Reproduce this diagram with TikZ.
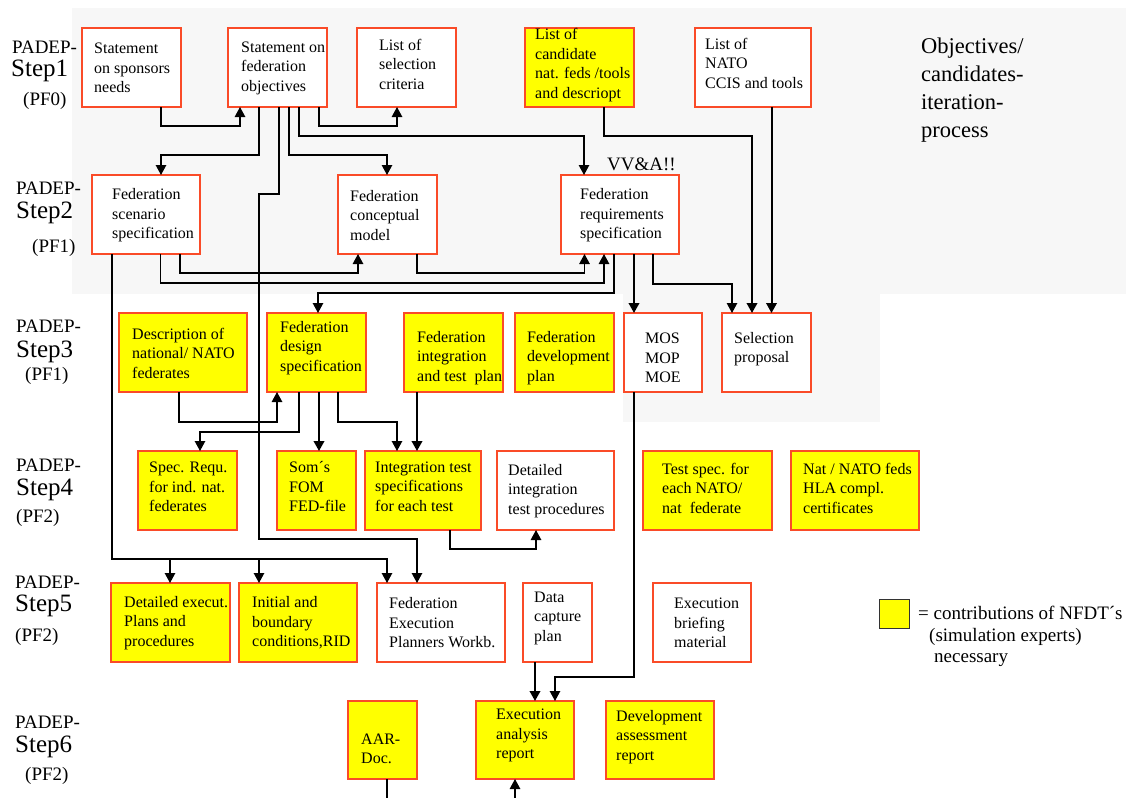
\documentclass[tikz,border=0pt]{standalone}
\usepackage{fontspec}
\setmainfont{Liberation Serif}
\usetikzlibrary{arrows.meta}
\definecolor{bggray}{RGB}{247,247,247}
\definecolor{boxred}{RGB}{250,75,40}
\definecolor{boxyel}{RGB}{255,255,0}
\newcommand{\mkbox}[6]{\node[#1, minimum width=#5pt, minimum height=#6pt] (#2) at (#3,#4) {};}

\begin{document}
\begin{tikzpicture}[x=1pt,y=-1pt,
  wbox/.style={draw=boxred, line width=1.4pt, fill=white, anchor=north west, inner sep=0pt, outer sep=0pt},
  ybox/.style={wbox, fill=boxyel},
  txt/.style={font=\fontsize{16}{19.5}\selectfont, align=left, inner sep=0pt, anchor=west},
  lbl/.style={font=\fontsize{19}{22}\selectfont, inner sep=0pt, anchor=west},
  big/.style={font=\fontsize{25}{28}\selectfont, inner sep=0pt, anchor=west},
  ln/.style={line width=1.2pt, -{Triangle[length=10pt,width=10.5pt]}},
  thk/.style={ln, line width=2pt},
  plain/.style={line width=1.2pt},
  hatch/.style={line width=2.6pt, dash pattern=on 0.9pt off 0.9pt}
]
\useasboundingbox (0,0) rectangle (1136,798);

% shaded iteration area
\fill[bggray] (72,8) rectangle (1126,294);
\fill[bggray] (623,294) rectangle (880,422);

% step labels
\node[lbl] (p1a) at (12,47) {PADEP-};
\node[big] (p1b) at (11,71) {Step1};
\node[lbl] (p1c) at (23,101) {(PF0)};
\node[lbl] (p2a) at (16,188) {PADEP-};
\node[big] (p2b) at (16,213) {Step2};
\node[lbl] (p2c) at (32,248) {(PF1)};
\node[lbl] (p3a) at (16,326) {PADEP-};
\node[big] (p3b) at (16,352) {Step3};
\node[lbl] (p3c) at (25,376) {(PF1)};
\node[lbl] (p4a) at (16,465) {PADEP-};
\node[big] (p4b) at (16,490) {Step4};
\node[lbl] (p4c) at (16,518) {(PF2)};
\node[lbl] (p5a) at (15,582) {PADEP-};
\node[big] (p5b) at (15,606) {Step5};
\node[lbl] (p5c) at (15,637) {(PF2)};
\node[lbl] (p6a) at (15,722) {PADEP-};
\node[big] (p6b) at (15,747) {Step6};
\node[lbl] (p6c) at (25,776) {(PF2)};

% boxes
\mkbox{wbox}{spons}{82}{28}{99}{79}
\mkbox{wbox}{fobj}{228}{28}{99}{79}
\mkbox{wbox}{selc}{357}{28}{99}{79}
\mkbox{ybox}{cand}{525}{28}{109}{79}
\mkbox{wbox}{ccis}{695}{28}{116}{79}
\mkbox{wbox}{fscen}{92}{175}{108}{79}
\mkbox{wbox}{fconc}{338}{175}{99}{79}
\mkbox{wbox}{freq}{561}{175}{118}{79}
\mkbox{ybox}{desc}{119}{313}{128}{79}
\mkbox{ybox}{fdes}{267}{313}{99}{79}
\mkbox{ybox}{finteg}{404}{313}{99}{79}
\mkbox{ybox}{fdev}{515}{313}{99}{79}
\mkbox{wbox}{mos}{624}{313}{78}{79}
\mkbox{wbox}{selp}{722}{313}{89}{79}
\mkbox{ybox}{sreq}{138}{451}{99}{79}
\mkbox{ybox}{som}{277}{451}{79}{79}
\mkbox{ybox}{itest}{365}{451}{116}{79}
\mkbox{wbox}{dint}{497}{451}{117}{79}
\mkbox{ybox}{tspec}{643}{451}{129}{79}
\mkbox{ybox}{natf}{791}{451}{128}{79}
\mkbox{ybox}{dexe}{111}{583}{119}{79}
\mkbox{ybox}{init}{239}{583}{118}{79}
\mkbox{wbox}{fexe}{377}{583}{128}{79}
\mkbox{wbox}{dcap}{523}{583}{69}{79}
\mkbox{wbox}{ebrief}{653}{583}{98}{79}
\mkbox{ybox}{aar}{348}{701}{69}{78}
\mkbox{ybox}{eana}{476}{701}{98}{78}
\mkbox{ybox}{dass}{606}{701}{108}{78}

% box texts
\node[txt] (t-spons) at (94,68) {Statement\\on sponsors\\needs};
\node[txt] (t-fobj) at (241,68) {Statement on\\federation\\objectives};
\node[txt] (t-selc) at (379,64) {List of\\selection\\criteria};
\node[txt] (t-cand) at (535,65) {List of\\candidate\\nat. feds /tools\\and descriopt};
\node[txt] (t-ccis) at (705,63) {List of\\NATO\\CCIS and tools};
\node[txt] (t-fscen) at (112,215.5) {Federation\\scenario\\specification};
\node[txt] (t-fconc) at (350,215.5) {Federation\\conceptual\\model};
\node[txt] (t-freq) at (580,215.5) {Federation\\requirements\\specification};
\node[txt] (t-desc) at (132,353) {Description of\\national/ NATO\\federates};
\node[txt] (t-fdes) at (280,348) {Federation\\design\\specification};
\node[txt] (t-finteg) at (417,358) {Federation\\integration\\and test\ \ plan};
\node[txt] (t-fdev) at (527,358) {Federation\\development\\plan};
\node[txt] (t-mos) at (645,358) {MOS\\MOP\\MOE};
\node[txt] (t-selp) at (734,349) {Selection\\proposal};
\node[txt] (t-sreq) at (149,487) {Spec. Requ.\\for ind. nat.\\federates};
\node[txt] (t-som) at (289,487) {Som´s\\FOM\\FED-file};
\node[txt] (t-itest) at (375,486.5) {Integration test\\specifications\\for each test};
\node[txt] (t-dint) at (508,491) {Detailed\\integration\\test procedures};
\node[txt] (t-tspec) at (662,488) {Test spec. for\\each NATO/\\nat\ \ federate};
\node[txt] (t-natf) at (803,488) {Nat / NATO feds\\HLA compl.\\certificates};
\node[txt] (t-dexe) at (124,623) {Detailed execut.\\Plans and\\procedures};
\node[txt] (t-init) at (252,623) {Initial and\\boundary\\conditions,RID};
\node[txt] (t-fexe) at (389,623) {Federation\\Execution\\Planners Workb.};
\node[txt] (t-dcap) at (534,618) {Data\\capture\\plan};
\node[txt] (t-ebrief) at (674,623) {Execution\\briefing\\material};
\node[txt] (t-aar) at (361,749) {AAR-\\Doc.};
\node[txt] (t-eana) at (496,735.5) {Execution\\analysis\\report};
\node[txt] (t-dass) at (616,737) {Development\\assessment\\report};

% side notes
\node[font=\fontsize{22.5}{28}\selectfont, align=left, inner sep=0pt, anchor=west] (obj) at (921,90) {Objectives/\\candidates-\\iteration-\\process};
\node[lbl] (vva) at (607,164) {VV\&A!!};

% legend
\node[draw=black!80, line width=1.2pt, fill=boxyel, anchor=north west, minimum width=30pt, minimum height=29pt, inner sep=0pt] (lgbox) at (879,599) {};
\node[lbl] (lg1) at (918,613) {= contributions of NFDT´s};
\node[lbl] (lg2) at (929,637) {(simulation experts)};
\node[lbl] (lg3) at (934,660) {necessary};

% connectors between boxes
\draw[ln] (161,0 |- spons.south) -- (161,126) -- (240,126) -- (240,0 |- fobj.south);
\draw[ln] (259,0 |- fobj.south) -- (259,155) -- (161,155) -- (161,0 |- fscen.north);
\draw[ln] (279,0 |- fobj.south) -- (279,194) -- (259,194) -- (259,539) -- (417,539) -- (417,0 |- fexe.north);
\draw[ln] (289,0 |- fobj.south) -- (289,155) -- (387,155) -- (387,0 |- fconc.north);
\draw[ln] (299,0 |- fobj.south) -- (299,136) -- (584,136) -- (584,0 |- freq.north);
\draw[ln] (319,0 |- fobj.south) -- (319,126) -- (397,126) -- (397,0 |- selc.south);
\draw[thk] (604,0 |- cand.south) -- (604,136) -- (752,136) -- (752,0 |- selp.north);
\draw[thk] (771.5,0 |- ccis.south) -- (771.5,0 |- selp.north);
\draw[ln] (653,0 |- freq.south) -- (653,284) -- (732,284) -- (732,0 |- selp.north);
\draw[thk] (634,0 |- freq.south) -- (634,0 |- mos.north);
\draw[ln] (112,0 |- fscen.south) -- (112,559) -- (387,559) -- (387,0 |- fexe.north);
\draw[ln] (170,559) -- (170,0 |- dexe.north);
\draw[ln] (259,559) -- (259,0 |- init.north);
\draw[ln] (160.5,0 |- fscen.south) -- (160.5,283) -- (604,283) -- (604,0 |- freq.south);
\draw[ln] (180,0 |- fscen.south) -- (180,273) -- (358,273) -- (358,0 |- fconc.south);
\draw[ln] (417,0 |- fconc.south) -- (417,273) -- (584.5,273) -- (584.5,0 |- freq.south);
\draw[ln] (614,0 |- freq.south) -- (614,293) -- (318,293) -- (318,0 |- fdes.north);
\draw[ln] (179,0 |- desc.south) -- (179,422) -- (277,422) -- (277,0 |- fdes.south);
\draw[ln] (299,0 |- fdes.south) -- (299,432) -- (200,432) -- (200,0 |- sreq.north);
\draw[thk] (319,0 |- fdes.south) -- (319,0 |- som.north);
\draw[ln] (338,0 |- fdes.south) -- (338,422) -- (397,422) -- (397,0 |- itest.north);
\draw[thk] (417,0 |- finteg.south) -- (417,0 |- itest.north);
\draw[ln] (450,0 |- itest.south) -- (450,549) -- (536,549) -- (536,0 |- dint.south);
\draw[ln] (634,0 |- mos.south) -- (634,677) -- (555,677) -- (555,0 |- eana.north);
\draw[thk] (535,0 |- dcap.south) -- (535,0 |- eana.north);
\coordinate (aarOut) at (387,798);
\coordinate (eanaIn) at (515,798);
\draw[plain] (387,0 |- aar.south) -- (aarOut);
\draw[ln] (eanaIn) -- (515,0 |- eana.south);

% crossing marks on the long vertical line
\draw[hatch] (259,262) -- (259,292);
\draw[hatch] (259,410) -- (259,438);
\end{tikzpicture}
\end{document}
